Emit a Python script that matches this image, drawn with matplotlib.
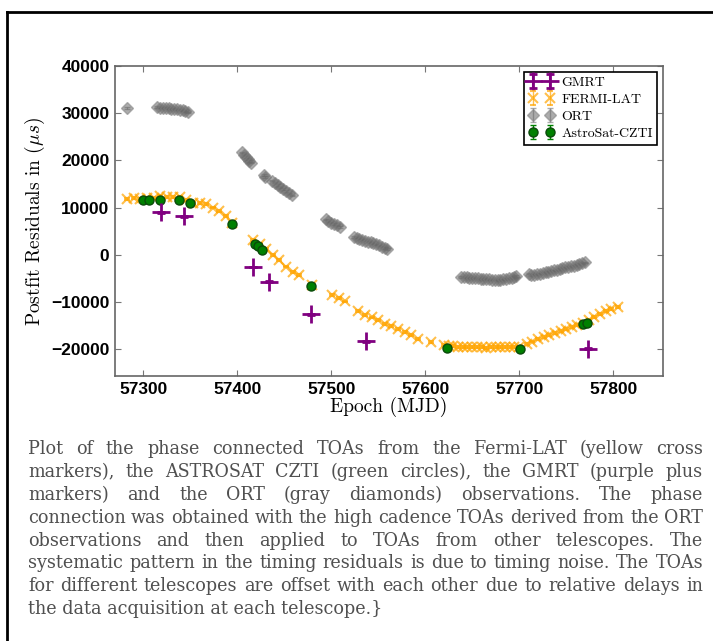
import matplotlib
matplotlib.use("Agg")
import matplotlib.pyplot as plt
from matplotlib.lines import Line2D

plt.rcParams['mathtext.fontset'] = 'cm'

# ---- data (MJD, residual in microseconds) ----
gmrt_mjd = [57319, 57343, 57417, 57434, 57479, 57537, 57773]
gmrt_res = [9000, 8200, -2600, -5700, -12600, -18300, -19900]

fermi_mjd = [57283, 57290, 57297, 57304, 57311, 57318, 57325, 57332, 57339,
             57346, 57353, 57360, 57367, 57374, 57381, 57388, 57395,
             57417, 57424, 57431, 57438, 57445, 57452, 57459, 57466, 57480,
             57501, 57508, 57515, 57529, 57536, 57543, 57550, 57557, 57564,
             57571, 57578, 57585, 57592, 57606, 57620,
             57625, 57630, 57635, 57640, 57645, 57650, 57655, 57660, 57665,
             57670, 57675, 57680, 57685, 57690, 57695, 57700,
             57708, 57714, 57720, 57726, 57732, 57738, 57744, 57750, 57756,
             57762, 57768, 57774, 57780, 57786, 57792, 57798, 57805]
fermi_res = [11900, 12000, 11900, 12100, 12000, 12400, 12300, 12200, 12300,
             11600, 11000, 10900, 10800, 10000, 9300, 8200, 6800,
             3200, 2200, 1300, 0, -1200, -2500, -3600, -4300, -6500,
             -8500, -9200, -9900, -12000, -12700, -13300, -13900, -14600, -15100,
             -15800, -16400, -17100, -17800, -18500, -19100,
             -19300, -19400, -19500, -19500, -19600, -19600, -19600, -19600, -19700,
             -19600, -19600, -19600, -19600, -19600, -19500, -19500,
             -19000, -18400, -17900, -17500, -17000, -16500, -16100, -15700, -15300,
             -14900, -14400, -13800, -13200, -12500, -11900, -11500, -11000]

ort_mjd = [57283,
           57315, 57318, 57321, 57324, 57327, 57330, 57333, 57336, 57339, 57342, 57345, 57348,
           57405, 57407, 57409, 57411, 57413, 57415,
           57428, 57430, 57437, 57440, 57443, 57446, 57449, 57452, 57455, 57458,
           57494, 57497, 57500, 57503, 57506, 57509,
           57524, 57527, 57530, 57533, 57536, 57539, 57542, 57545, 57548, 57551, 57554, 57557, 57559,
           57638, 57641, 57644, 57647, 57650, 57653, 57656, 57659, 57662, 57665, 57668,
           57671, 57674, 57677, 57680, 57683, 57686, 57689, 57692, 57695, 57697,
           57710, 57713, 57716, 57719, 57722, 57725, 57728, 57731, 57734, 57737, 57740,
           57743, 57746, 57749, 57752, 57755, 57758, 57761, 57764, 57767, 57770]
ort_res = [31100,
           31300, 31200, 31100, 31100, 31000, 30900, 30900, 30800, 30700, 30600, 30400, 30200,
           21700, 21200, 20700, 20300, 19900, 19500,
           16900, 16500, 15700, 15300, 14800, 14300, 13900, 13500, 13000, 12600,
           7500, 7100, 6800, 6500, 6200, 5900,
           3800, 3600, 3400, 3200, 3000, 2800, 2600, 2400, 2200, 2000, 1700, 1400, 1200,
           -4700, -4800, -4800, -4900, -4900, -5000, -5000, -5100, -5100, -5200, -5200,
           -5300, -5300, -5400, -5300, -5200, -5100, -5000, -4900, -4700, -4500,
           -4000, -4300, -4200, -4100, -4000, -3900, -3700, -3600, -3400, -3300, -3200,
           -3000, -2900, -2700, -2600, -2400, -2300, -2100, -2000, -1800, -1600]

czti_mjd = [57300, 57306, 57318, 57338, 57350, 57394, 57419, 57422, 57426,
            57478, 57623, 57701, 57768, 57772]
czti_res = [11500, 11500, 11600, 11500, 11000, 6600, 2200, 1800, 1100,
            -6700, -19700, -19900, -14600, -14400]

xticks = [57300, 57400, 57500, 57600, 57700, 57800]
yticks = [-20000, -10000, 0, 10000, 20000, 30000, 40000]

caption_lines = [
    "Plot of the phase connected TOAs from the Fermi-LAT (yellow cross",
    "markers), the ASTROSAT CZTI (green circles), the GMRT (purple plus",
    "markers) and the ORT (gray diamonds) observations. The phase",
    "connection was obtained with the high cadence TOAs derived from the ORT",
    "observations and then applied to TOAs from other telescopes. The",
    "systematic pattern in the timing residuals is due to timing noise. The TOAs",
    "for different telescopes are offset with each other due to relative delays in",
    "the data acquisition at each telescope.}",
]

W, H = 713, 641
fig = plt.figure(figsize=(W / 100, H / 100), dpi=100)
ax = fig.add_axes([115 / W, 1 - 376 / H, (663 - 115) / W, (376 - 66) / H])

serif = ['cmr10', 'DejaVu Serif']

h_ort = ax.errorbar(ort_mjd, ort_res, yerr=150, fmt='D', color='dimgray', ms=6,
                    mec='gray', alpha=0.55, capsize=2, elinewidth=1, zorder=2)
h_fermi = ax.errorbar(fermi_mjd, fermi_res, yerr=200, fmt='x', color='orange', ms=6.5,
                      mew=1.5, alpha=0.7, capsize=2, elinewidth=1, zorder=3)
h_czti = ax.errorbar(czti_mjd, czti_res, yerr=150, fmt='o', color='green', ms=6.5,
                     mec='#0a4a0a', capsize=2, elinewidth=1, zorder=4)
h_gmrt = ax.errorbar(gmrt_mjd, gmrt_res, yerr=100, fmt='+', color='purple', ms=13,
                     mew=2, capsize=3, elinewidth=1.5, zorder=5)

ax.set_xlim(57270, 57853)
ax.set_ylim(-25700, 40000)
ax.set_xticks(xticks)
ax.set_yticks(yticks)
ax.tick_params(direction='in', length=4, width=0.8, color='#777777',
               top=True, right=True, pad=4)
for lab in ax.get_xticklabels() + ax.get_yticklabels():
    lab.set_fontfamily('Liberation Sans')
    lab.set_fontweight('bold')
    lab.set_fontsize(12.5)
for sp in ax.spines.values():
    sp.set_color('#666666')
    sp.set_linewidth(1.2)

ax.set_xlabel('Epoch (MJD)', family=serif, fontsize=14, labelpad=0)
ax.set_ylabel(r'Postfit Residuals in ($\mu s$)', family=serif, fontsize=14, labelpad=3)

leg = ax.legend([h_gmrt, h_fermi, h_ort, h_czti],
                ['GMRT', 'FERMI-LAT', 'ORT', 'AstroSat-CZTI'],
                loc='upper right', numpoints=2, fancybox=False, framealpha=1,
                edgecolor='black', prop={'family': serif, 'size': 10},
                borderaxespad=0.4, handlelength=1.8, labelspacing=0.3,
                borderpad=0.35, handletextpad=0.5)
leg.get_frame().set_linewidth(1.2)

# page frame (top and left edges)
fig.add_artist(Line2D([7 / W, 1.0], [1 - 12 / H, 1 - 12 / H], color='black', lw=2))
fig.add_artist(Line2D([7 / W, 7 / W], [1 - 12 / H, 0.0], color='black', lw=2))

# justified caption
renderer = fig.canvas.get_renderer()
x0, x1 = 28, 703
cap_font = dict(family='DejaVu Serif', fontstretch='condensed', fontsize=14,
                color='#505050')
for i, line in enumerate(caption_lines):
    yc = 1 - (449 + i * 22.9) / H
    words = line.split(' ')
    if i == len(caption_lines) - 1:
        fig.text(x0 / W, yc, line, va='center', ha='left', **cap_font)
        continue
    texts = [fig.text(0, yc, w, va='center', ha='left', **cap_font) for w in words]
    widths = [t.get_window_extent(renderer).width for t in texts]
    gap = (x1 - x0 - sum(widths)) / (len(words) - 1)
    x = x0
    for t, w in zip(texts, widths):
        t.set_x(x / W)
        x += w + gap

fig.savefig('out.png', dpi=100)
